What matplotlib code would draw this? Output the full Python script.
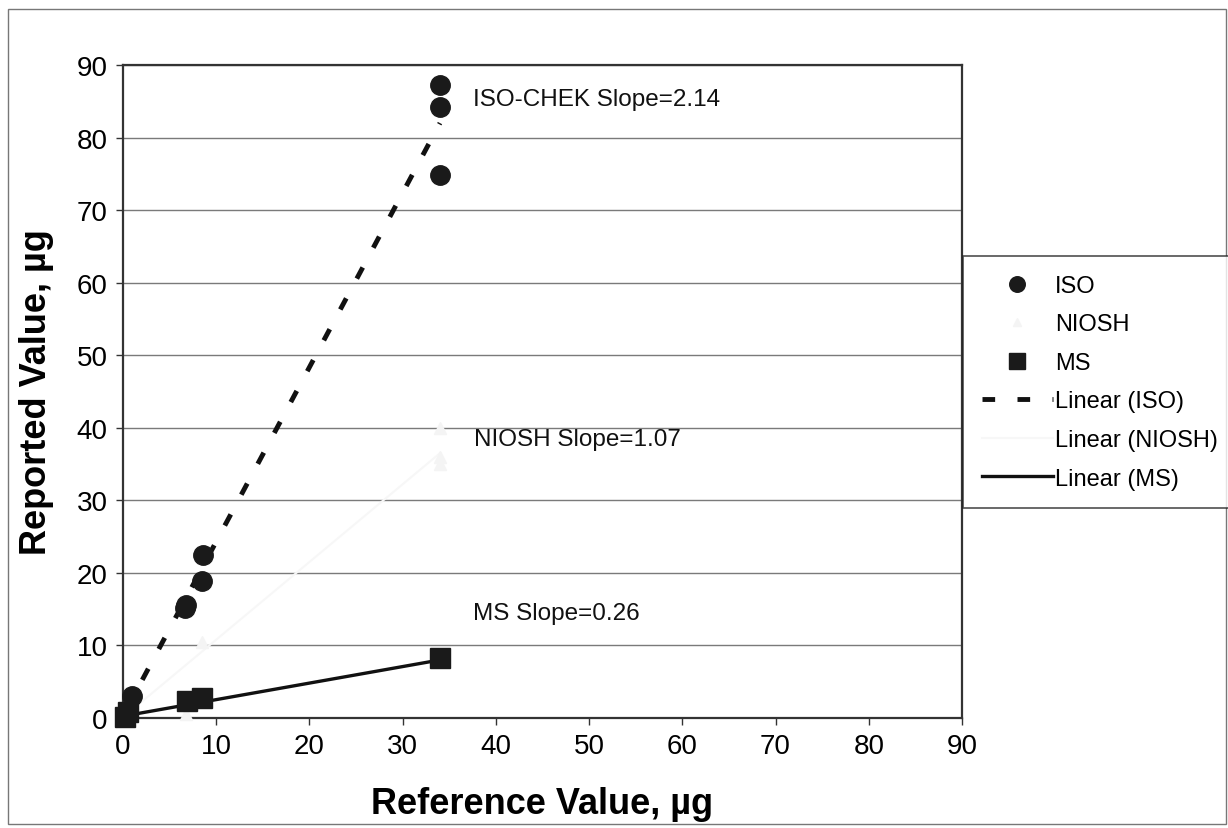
import matplotlib.pyplot as plt
from matplotlib.patches import Rectangle

plt.rcParams['font.family'] = ['Liberation Sans', 'DejaVu Sans']

iso_x = [0.2, 1.0, 6.6, 6.8, 8.5, 8.6, 34.0, 34.0, 34.0]
iso_y = [0.5, 3.0, 15.2, 15.6, 18.9, 22.4, 87.3, 84.2, 74.9]
niosh_x = [0.2, 0.8, 6.8, 8.5, 34.0, 34.0, 34.0]
niosh_y = [0.3, 2.0, 0.5, 10.5, 40.0, 36.0, 35.0]
ms_x = [0.2, 0.5, 6.9, 8.5, 34.0]
ms_y = [0.2, 0.8, 2.4, 2.7, 8.3]

# trend line end points
iso_fit_x = [0.3, 34.0]
iso_fit_y = [1.0, 82.0]
niosh_fit_x = [0.2, 34.0]
niosh_fit_y = [0.3, 36.5]
ms_fit_x = [0.2, 34.0]
ms_fit_y = [0.3, 8.0]

ticks = list(range(0, 100, 10))
notes = [("ISO-CHEK Slope=2.14", 37.5, 85.3),
         ("NIOSH Slope=1.07", 37.7, 38.4),
         ("MS Slope=0.26", 37.5, 14.5)]

fig = plt.figure(figsize=(12.28, 8.29), dpi=100)
ax = fig.add_axes([123/1228, 1 - 719/829, (962 - 123)/1228, (719 - 66)/829])

ax.plot(iso_x, iso_y, 'o', color='#1a1a1a', ms=14, label='ISO', zorder=4, clip_on=False)
ax.plot(niosh_x, niosh_y, '^', color='#f4f4f4', ms=8, label='NIOSH', zorder=3, clip_on=False)
ax.plot(ms_x, ms_y, 's', color='#1a1a1a', ms=14, label='MS', zorder=4, clip_on=False)
ax.plot(iso_fit_x, iso_fit_y, color='#111111', lw=3.5, dashes=(2.6, 4.6),
        dash_capstyle='butt', label='Linear (ISO)', zorder=3)
ax.plot(niosh_fit_x, niosh_fit_y, color='#f7f7f7', lw=1.5, label='Linear (NIOSH)', zorder=2)
ax.plot(ms_fit_x, ms_fit_y, color='#111111', lw=2.4, label='Linear (MS)', zorder=3)

for txt, x, y in notes:
    ax.text(x, y, txt, fontsize=17.5, va='center', ha='left', color='#111111')

ax.set_xlim(0, 90)
ax.set_ylim(0, 90)
ax.set_xticks(ticks)
ax.set_yticks(ticks)
ax.tick_params(labelsize=20, length=5, width=1, color='#333333', pad=6)
ax.yaxis.grid(True, color='#7a7a7a', lw=1)
ax.set_axisbelow(True)
for s in ax.spines.values():
    s.set_linewidth(1.6)
    s.set_color('#333333')

ax.set_xlabel('Reference Value, µg', fontsize=26, fontweight='bold', labelpad=19)
ax.set_ylabel('Reported Value, µg', fontsize=26, fontweight='bold', labelpad=16)

leg = fig.legend(loc='upper left', bbox_to_anchor=(963/1228, 1 - 257/829),
                 fontsize=17, frameon=True, fancybox=False, borderaxespad=0,
                 handlelength=3.0, labelspacing=0.7, borderpad=0.8, handletextpad=0.1,
                 markerscale=0.8)
leg.get_frame().set_edgecolor('#222222')
leg.get_frame().set_linewidth(1.2)

fig.patches.append(Rectangle((8/1228, 4/829), 1218/1228, 815/829, transform=fig.transFigure,
                             fill=False, edgecolor='#777777', lw=1))

fig.savefig('out.png', dpi=100)
